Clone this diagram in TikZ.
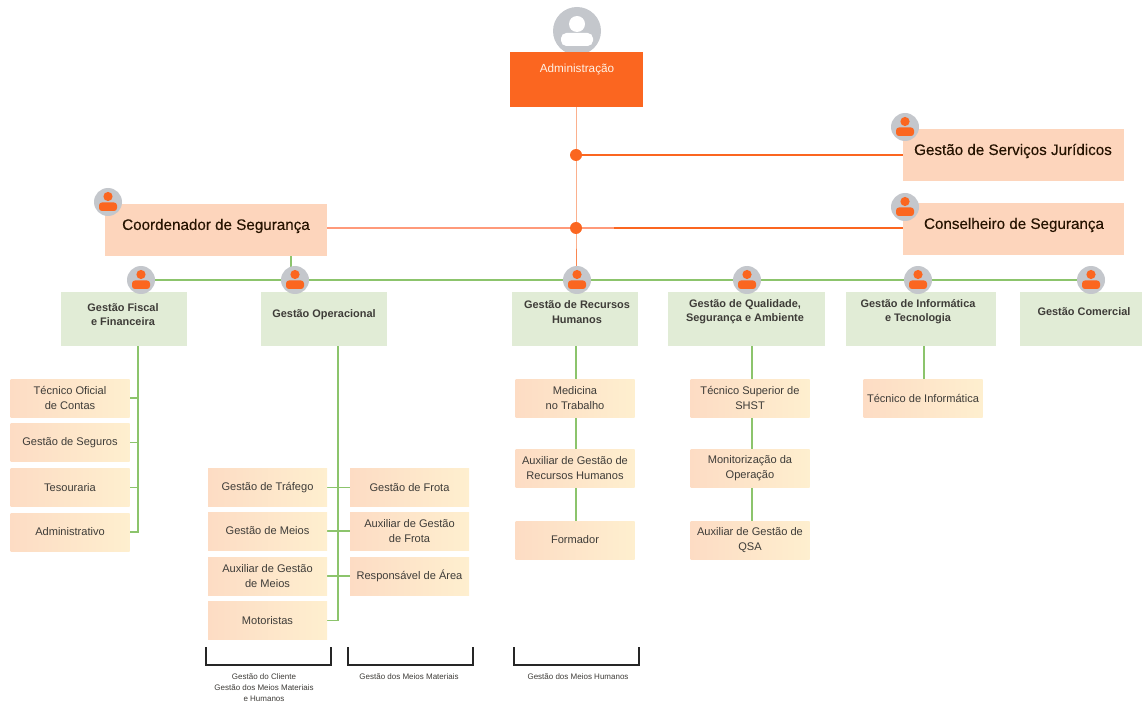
\documentclass[tikz,border=0pt]{standalone}
\usepackage{fontspec}
\setmainfont{Liberation Sans}
\usetikzlibrary{backgrounds}
\definecolor{orA}{HTML}{FB6620}
\definecolor{orL}{HTML}{FDD5BC}
\definecolor{orM}{HTML}{FF9A7A}
\definecolor{orT}{HTML}{F98650}
\definecolor{subL}{HTML}{FDDCC4}
\definecolor{subM}{HTML}{FDDFC6}
\definecolor{subR}{HTML}{FEEFCF}
\definecolor{grB}{HTML}{E1ECD6}
\definecolor{grL}{HTML}{8CC46C}
\definecolor{avat}{HTML}{C4C7CC}
\definecolor{txtc}{HTML}{3E3C38}
\newfontfamily\bigface[FakeBold=0.25]{Liberation Sans}
\tikzset{
  every node/.style={inner sep=0pt,outer sep=0pt,align=center,text=txtc},
  bigbox/.style={fill=orL,minimum width=221*0.75pt,minimum height=52*0.75pt},
  bigtxt/.style={font=\bigface\fontsize{11.4pt}{14pt}\selectfont,text=black!85!orange},
  headbox/.style={fill=grB,minimum height=54*0.75pt},
  headtxt/.style={font=\fontsize{8.2pt}{10.7pt}\selectfont\bfseries},
  subbox/.style={left color=subL,middle color=subM,right color=subR,minimum width=119*0.75pt,minimum height=38*0.75pt,
    font=\fontsize{8.3pt}{11.2pt}\selectfont},
  twol/.style={execute at begin node=\rule{0pt}{8pt}},
  greenln/.style={draw=grL,line width=0.9pt},
  thinor/.style={draw=orT,line width=.7pt},
  thickor/.style={draw=orA,line width=1.6pt},
  paleor/.style={draw=orM,line width=1.1pt},
  bracket/.style={draw=black!85,line width=1.1pt},
  notetxt/.style={font=\fontsize{6pt}{8.25pt}\selectfont},
  avatar/.style={circle,fill=avat,minimum size=28*0.75pt},
  jdot/.style={circle,fill=orA,minimum size=12*0.75pt},
}
\newcommand{\pers}[3]{%
  \node[avatar] (#1) at (#2,#3) {};
  \begin{scope}[shift={(#2,#3)}]
    \fill[orA] (0,-5.5) circle[radius=4.6];
    \fill[orA,rounded corners=2.2] (-9,0.5) rectangle (9,9);
  \end{scope}}
\begin{document}
\begin{tikzpicture}[x=0.75pt,y=-0.75pt]
\useasboundingbox (0,0) rectangle (1142,702);
% top
\node[circle,fill=avat,minimum size=48*0.75pt] (topav) at (577,31) {};
\begin{scope}[shift={(577,31)}]
  \fill[white] (0,-7) circle[radius=8];
  \fill[white,rounded corners=4] (-16,2) rectangle (16,15);
\end{scope}
\node[fill=orA,minimum width=133*0.75pt,minimum height=55*0.75pt] (adm) at (576.5,79.5) {};
\node[text=white!90!orange,font=\fontsize{8.8pt}{11pt}\selectfont] (admt) at (577,69) {Administração};
% big boxes
\node[bigbox] (jur) at (1013.5,155) {};
\node[bigtxt] (jurt) at (1013,151) {Gestão de Serviços Jurídicos};
\node[bigbox] (con) at (1013.5,229) {};
\node[bigtxt] (cont) at (1014,225) {Conselheiro de Segurança};
\node[bigbox,minimum width=222*0.75pt] (coo) at (216,230) {};
\node[bigtxt] (coot) at (216,226) {Coordenador de Segurança};
\pers{ajur}{905}{127}
\pers{acon}{905}{207}
\pers{acoo}{108}{202}
% heads
\node[headbox,minimum width=126*0.75pt] (fis) at (124,319) {};
\node[headtxt] (fist) at (123,314.5) {Gestão Fiscal\\e Financeira};
\node[headbox,minimum width=126*0.75pt] (ope) at (324,319) {};
\node[headtxt] (opet) at (324,315) {Gestão Operacional};
\node[headbox,minimum width=126*0.75pt] (rh) at (575,319) {};
\node[headtxt] (rht) at (577,312) {Gestão de Recursos\\Humanos};
\node[headbox,minimum width=157*0.75pt] (qua) at (746.5,319) {};
\node[headtxt] (quat) at (745,312) {Gestão de Qualidade,\\Segurança e Ambiente};
\node[headbox,minimum width=150*0.75pt] (inf) at (921,319) {};
\node[headtxt] (inft) at (918,312) {Gestão de Informática\\e Tecnologia};
\node[headbox,minimum width=122*0.75pt] (com) at (1081,319) {};
\node[headtxt] (comt) at (1084,312) {Gestão Comercial};
\pers{afis}{141}{280}
\pers{aope}{295}{280}
\pers{arh}{577}{280}
\pers{aqua}{747}{280}
\pers{ainf}{918}{280}
\pers{acom}{1091}{280}
% sub boxes
\node[subbox,twol] (s1) at (70,398) {Técnico Oficial\\de Contas};
\node[subbox] (s2) at (70,442.5) {Gestão de Seguros};
\node[subbox] (s3) at (70,487.5) {Tesouraria};
\node[subbox] (s4) at (70,532) {Administrativo};
\node[subbox] (l1) at (267.5,487.5) {Gestão de Tráfego};
\node[subbox] (l2) at (267.5,531) {Gestão de Meios};
\node[subbox,twol] (l3) at (267.5,576) {Auxiliar de Gestão\\de Meios};
\node[subbox] (l4) at (267.5,620.5) {Motoristas};
\node[subbox] (r1) at (409.5,487.5) {Gestão de Frota};
\node[subbox,twol] (r2) at (409.5,531) {Auxiliar de Gestão\\de Frota};
\node[subbox] (r3) at (409.5,576) {Responsável de Área};
\node[subbox,twol] (h1) at (575,398) {Medicina\\no Trabalho};
\node[subbox,twol] (h2) at (575,468) {Auxiliar de Gestão de\\Recursos Humanos};
\node[subbox] (h3) at (575,540) {Formador};
\node[subbox,twol] (q1) at (750,398) {Técnico Superior de\\SHST};
\node[subbox,twol] (q2) at (750,468.5) {Monitorização da\\Operação};
\node[subbox,twol] (q3) at (750,540) {Auxiliar de Gestão de\\QSA};
\node[subbox] (i1) at (923,398) {Técnico de Informática};
% bracket captions
\node[notetxt] (n1) at (264,688) {Gestão do Cliente\\Gestão dos Meios Materiais\\e Humanos};
\node[notetxt] (n2) at (409,677) {Gestão dos Meios Materiais};
\node[notetxt] (n3) at (578,677) {Gestão dos Meios Humanos};
% bracket anchors and junctions
\coordinate (d1) at (576,155);
\coordinate (d2) at (576,228);
\coordinate (b1a) at (206,647); \coordinate (b1b) at (331,647);
\coordinate (b2a) at (348,647); \coordinate (b2b) at (473,647);
\coordinate (b3a) at (514,647); \coordinate (b3b) at (639,647);
\coordinate (sp1) at (138,346);
\coordinate (sp2) at (338,346);
\coordinate (sp3) at (576,346);
\coordinate (sp4) at (752,346);
\coordinate (sp5) at (924,346);
\coordinate (cj) at (614,228);
\coordinate (coj) at (291,256);
\coordinate (hj) at (291,280);
\begin{pgfonlayer}{background}
  \draw[thinor] (adm.south-|d1) -- (d2) -- (576,270);
  \draw[thickor] (d1) -- (d1-|jur.west);
  \draw[paleor] (d2-|coo.east) -- (cj);
  \draw[thickor,line width=1.3pt] (cj) -- (cj-|con.west);
  \draw[greenln] (afis) -- (acom);
  \draw[greenln] (coj) -- (hj);
  % fiscal
  \draw[greenln] (sp1) |- (s4.east);
  \draw[greenln] (s1.east) -- (s1-|sp1);
  \draw[greenln] (s2.east) -- (s2-|sp1);
  \draw[greenln] (s3.east) -- (s3-|sp1);
  % operacional
  \draw[greenln] (sp2) |- (l4.east);
  \draw[greenln] (l1.east) -- (r1.west|-l1.east);
  \draw[greenln] (l2.east) -- (r2.west|-l2.east);
  \draw[greenln] (l3.east) -- (r3.west|-l3.east);
  % columns
  \draw[greenln,line width=1.4pt] (sp3) -- (sp3|-h3.north);
  \draw[greenln,line width=1.4pt] (sp4) -- (sp4|-q3.north);
  \draw[greenln,line width=1.4pt] (sp5) -- (sp5|-i1.north);
\end{pgfonlayer}
\fill[orA] (d1) circle[radius=6];
\fill[orA] (d2) circle[radius=6];
\draw[bracket] (b1a) -- ++(0,18) -| (b1b);
\draw[bracket] (b2a) -- ++(0,18) -| (b2b);
\draw[bracket] (b3a) -- ++(0,18) -| (b3b);
\end{tikzpicture}
\end{document}
